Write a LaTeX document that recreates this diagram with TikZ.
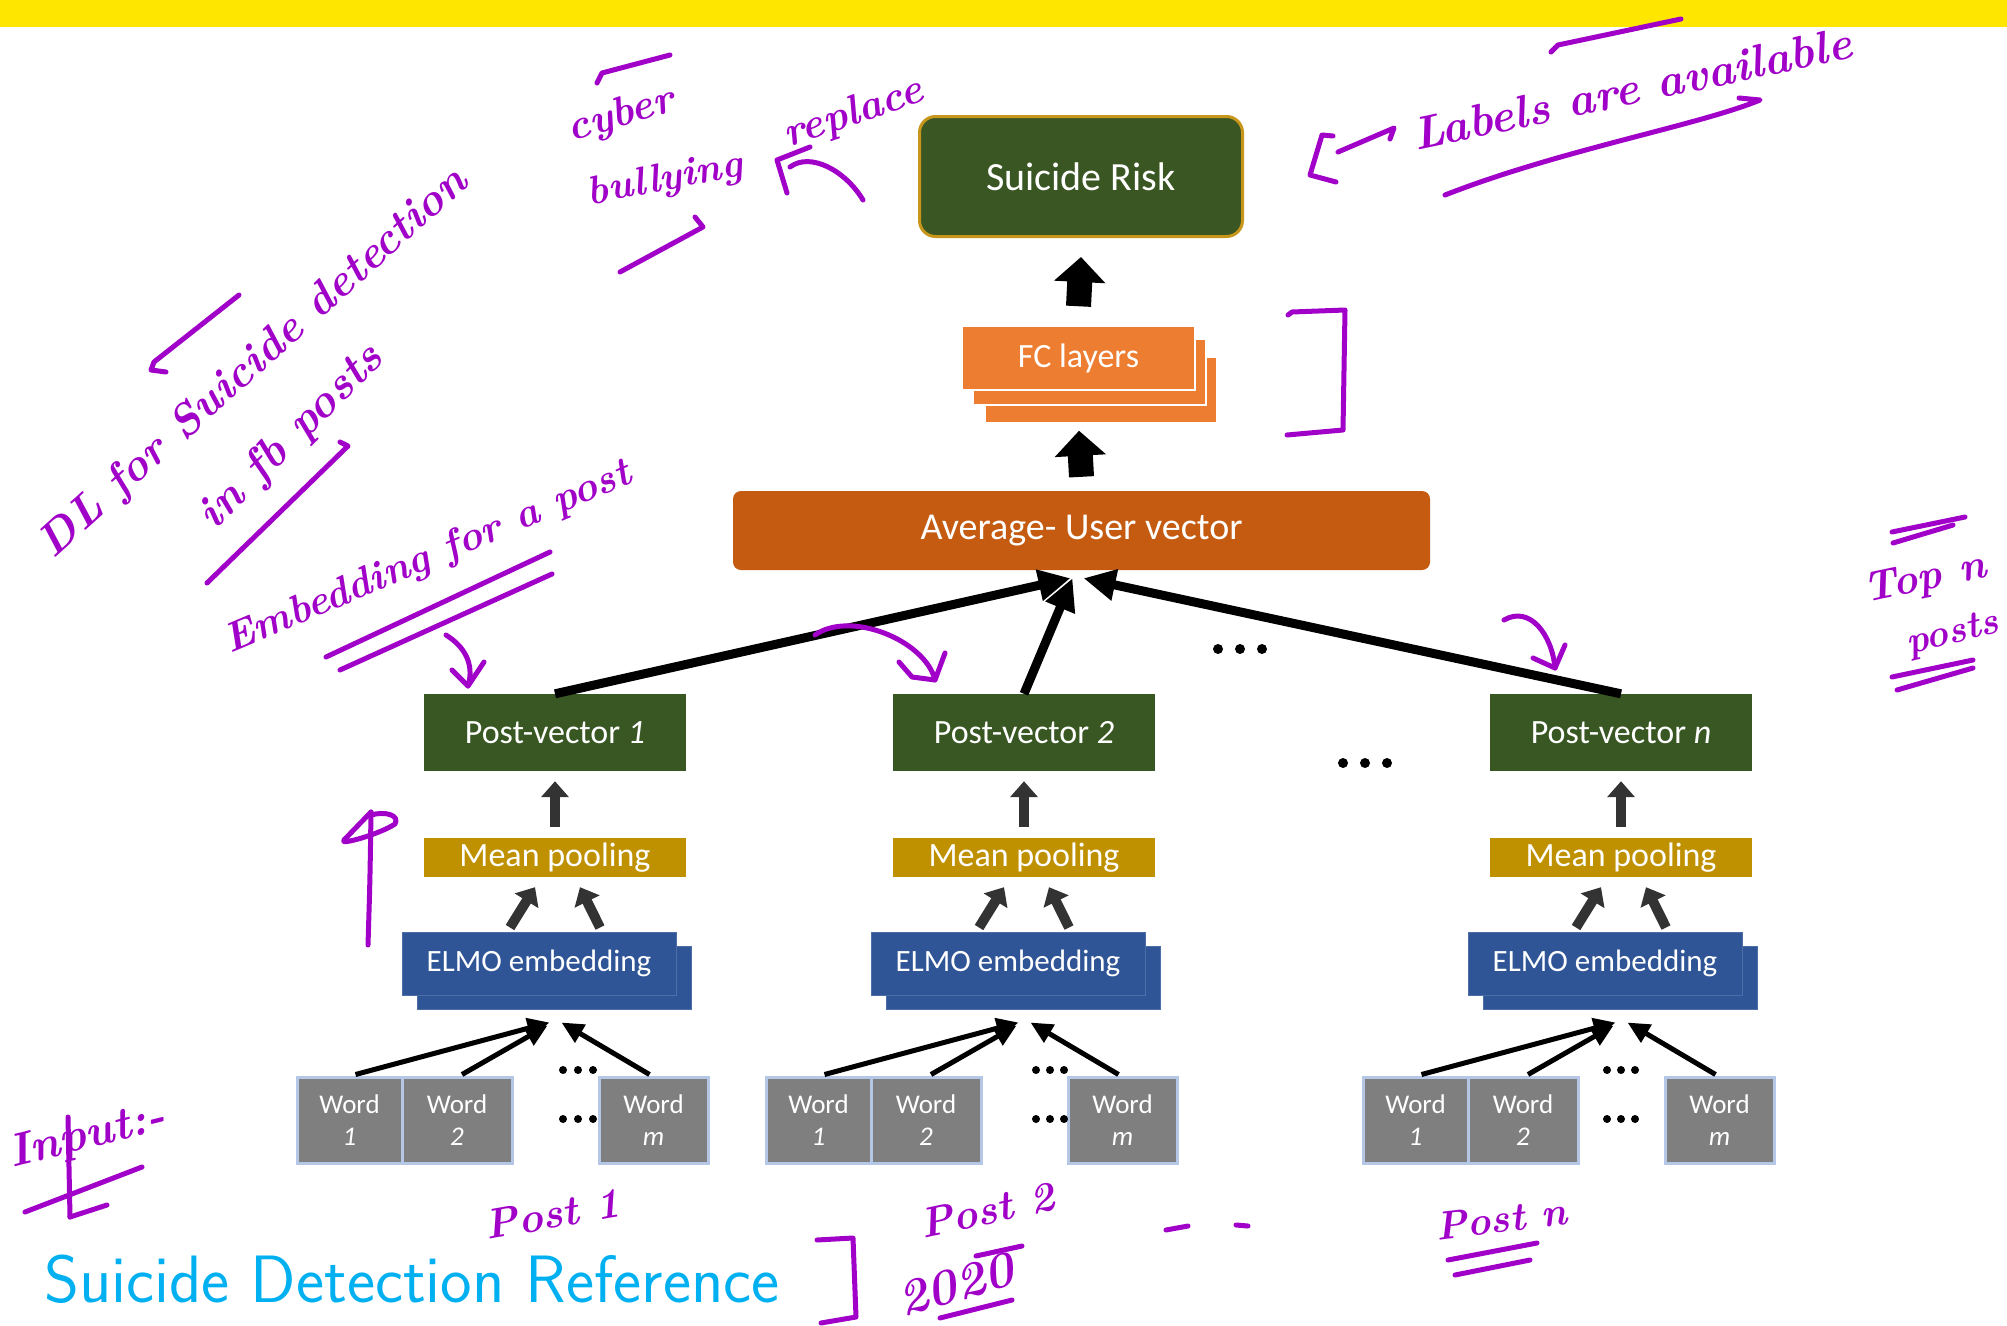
\documentclass[tikz,border=0pt]{standalone}
\usepackage{fontspec}
\newfontfamily\diagfont{Carlito}
\usetikzlibrary{arrows.meta,calc}

\definecolor{barYellow}{HTML}{FFE600}
\definecolor{riskGreen}{HTML}{3A5623}
\definecolor{riskGold}{HTML}{C8961A}
\definecolor{fcOrange}{HTML}{ED7D31}
\definecolor{avgOrange}{HTML}{C55A11}
\definecolor{pvGreen}{HTML}{385723}
\definecolor{poolGold}{HTML}{BF9000}
\definecolor{elmoBlue}{HTML}{2F5597}
\definecolor{wordGray}{HTML}{7F7F7F}
\definecolor{wordEdge}{HTML}{B4C7E7}
\definecolor{titleCyan}{HTML}{00B0F0}
\definecolor{ink}{HTML}{A000C8}

\begin{document}
\begin{tikzpicture}[x=1pt,y=-1pt,
  fs/.style={font=\diagfont\fontsize{#1}{#1}\selectfont},
  box/.style={inner sep=0pt, text=white},
  riskbox/.style={box, fill=riskGreen, draw=riskGold, line width=3pt,
    rounded corners=16pt, minimum width=323pt, minimum height=120pt, fs=40},
  fcbox/.style={box, fill=fcOrange, draw=white, line width=1.5pt,
    minimum width=233pt, minimum height=64pt, fs=34},
  avgbox/.style={box, fill=avgOrange, rounded corners=8pt,
    minimum width=697pt, minimum height=79pt, fs=38},
  pvbox/.style={box, fill=pvGreen, minimum width=262pt, minimum height=77pt, fs=34},
  poolbox/.style={box, fill=poolGold, minimum width=262pt, minimum height=39pt, fs=34},
  elmobox/.style={box, fill=elmoBlue, draw=elmoBlue!85!white, line width=1pt,
    minimum width=274pt, minimum height=63pt, fs=31},
  wordbox/.style={box, fill=wordGray, draw=wordEdge, line width=3pt,
    minimum height=86pt, align=center, fs=27},
  blockarrow/.style={line width=25pt, -{Triangle[width=50pt,length=25pt]}},
  smallarrow/.style={draw=black!80, line width=10pt, -{Triangle[width=27pt,length=16pt]}},
  bigarrow/.style={line width=9pt, -{Triangle[width=30pt,length=32pt]}},
  wordarrow/.style={line width=5pt, -{Triangle[width=20pt,length=22pt]}},
  dot/.style={fill=black, circle, inner sep=0pt, minimum size=#1},
  hw/.style={text=ink, inner sep=0pt, anchor=base,
    font=\bfseries\itshape\fontsize{#1}{#1}\selectfont},
  inkline/.style={draw=ink, line width=5pt, line cap=round, line join=round}
]
\useasboundingbox (0,0) rectangle (2007,1325);
\fill[white] (0,0) rectangle (2007,1325);
\fill[barYellow] (0,0) rectangle (2007,27);

% ---------- upper part of the network ----------
\node[riskbox] (risk) at (1081,176.5) {Suicide Risk};

\node[fcbox, minimum width=232pt, minimum height=66pt] (fcc) at (1101,390) {};
\node[fcbox, minimum width=233pt, minimum height=66pt] (fcb) at (1089.5,372) {};
\node[fcbox] (fc) at (1078.5,358) {FC layers};

\node[avgbox] (avg) at (1081.5,530.5) {Average- User vector};

\draw[blockarrow] ($(fc.north)+(0,-19)$) -- ($(risk.south)+(0,19)$);
\draw[blockarrow] ($(avg.north)+(0,-14)$) -- ($(fcc.south)+(-22,7)$);

% ---------- one column per post ----------
\foreach \i/\dx/\lab in {1/0/1, 2/469/2, 3/1066/n}{
  \node[pvbox]   (pv\i) at (555+\dx,732.5) {Post-vector \textit{\lab}};
  \node[poolbox] (mp\i) at (555+\dx,857.5) {Mean pooling};
  \node[elmobox] (elmob\i) at (554.5+\dx,977.5) {};
  \node[elmobox] (elmo\i)  at (539+\dx,963.5) {ELMO embedding};
  \node[wordbox, minimum width=105pt] (wa\i) at (349.5+\dx,1120) {Word\\[5pt]\textit{1}};
  \node[wordbox, minimum width=110pt] (wb\i) at (457+\dx,1120) {Word\\[5pt]\textit{2}};
  \node[wordbox, minimum width=109pt] (wm\i) at (653.5+\dx,1120) {Word\\[5pt]\textit{m}};

  \draw[smallarrow] ($(mp\i.north)+(0,-11)$) -- ($(pv\i.south)+(0,10)$);
  \draw[smallarrow] ($(elmo\i.north)+(-29,-4)$) -- ($(mp\i.south)+(-20,10)$);
  \draw[smallarrow] ($(elmo\i.north)+(61,-4)$) -- ($(mp\i.south)+(25,10)$);

  \draw[wordarrow] ($(wa\i.north)+(6,-1)$) -- ($(elmob\i.south)+(-5,13)$);
  \draw[wordarrow] ($(wb\i.north)+(5,-1)$) -- ($(elmob\i.south)+(-7,16)$);
  \draw[wordarrow] ($(wm\i.north)+(-4,-1)$) -- ($(elmob\i.south)+(7,13)$);
}

\draw[bigarrow] (pv1.north) -- ($(avg.south)+(-11,8)$);
\draw[bigarrow] (pv2.north) -- ($(avg.south)+(-9,8)$);
\draw[bigarrow] (pv3.north) -- ($(avg.south)+(2,8)$);

% ellipses between the columns and between the words
\foreach \x in {1218,1240,1262} \node[dot=10pt] (dta\x) at (\x,649) {};
\foreach \x in {1343,1365,1387} \node[dot=10pt] (dtb\x) at (\x,763) {};
\foreach \x in {563,578,593,1036,1050,1064,1607,1621,1635}{
  \node[dot=8pt] (dwu\x) at (\x,1070) {};
  \node[dot=8pt] (dwl\x) at (\x,1119) {};
}

% ---------- title ----------
\node[anchor=base west, inner sep=0pt, text=titleCyan,
  font=\sffamily\fontsize{67}{67}\selectfont] (title) at (44,1302) {Suicide Detection Reference};

% ---------- pen notes ----------
\node[hw=45, rotate=42] (nDL) at (262,372) {DL for Suicide detection};
\node[hw=46, rotate=45] (nFB) at (300,446) {in fb posts};
\draw[inkline] (239,295) -- (154,362) -- (151,370) -- (166,372);
\draw[inkline] (340,442) -- (348,446) -- (207,583);

\node[hw=41, rotate=23] (nEmb) at (432,568) {Embedding for a post};
\draw[inkline] (326,657) -- (550,552);
\draw[inkline] (340,670) -- (552,574);

\node[hw=42, rotate=17] (nCy) at (624,126) {cyber};
\node[hw=40, rotate=11] (nBu) at (667,190) {bullying};
\draw[inkline] (597,83) -- (602,73) -- (670,55);
\draw[inkline] (620,272) -- (703,227) -- (695,217);

\node[hw=42, rotate=19] (nRe) at (857,124) {replace};
\draw[inkline] (787,193) -- (777,160) -- (810,147);
\draw[inkline] (790,167) .. controls (810,152) and (845,170) .. (863,200);

\node[hw=46, rotate=12] (nLab) at (1635,104) {Labels are available};
\draw[inkline] (1333,136) -- (1322,135) -- (1310,175) -- (1336,182);
\draw[inkline] (1338,152) -- (1394,128) -- (1390,139);
\draw[inkline] (1551,52) -- (1558,45) -- (1681,19);
\draw[inkline] (1445,195) .. controls (1560,150) and (1700,125) .. (1760,100) -- (1739,98);

\draw[inkline] (1288,315) -- (1292,312) -- (1345,310) -- (1343,430) -- (1287,435);

\node[hw=42, rotate=12] (nTop) at (1927,590) {Top n};
\node[hw=38, rotate=14] (nPo) at (1955,643) {posts};
\draw[inkline] (1892,532) -- (1965,517);
\draw[inkline] (1893,543) -- (1953,525);
\draw[inkline] (1892,677) -- (1973,660);
\draw[inkline] (1897,690) -- (1973,668);

\draw[inkline] (446,635) .. controls (470,650) and (473,670) .. (468,686);
\draw[inkline] (452,670) -- (468,686) -- (484,662);
\draw[inkline] (815,635) .. controls (850,610) and (925,640) .. (935,680);
\draw[inkline] (899,662) -- (912,677) -- (935,680) -- (945,653);
\draw[inkline] (1504,620) .. controls (1530,605) and (1552,635) .. (1555,668);
\draw[inkline] (1533,658) -- (1555,668) -- (1565,645);

\draw[inkline] (368,945) .. controls (370,880) .. (371,812);
\draw[inkline] (371,812) -- (344,840) .. controls (338,846) and (380,834) .. (395,824)
  .. controls (400,815) and (385,811) .. (371,815);

\node[hw=46, rotate=14] (nIn) at (90,1148) {Input:-};
\draw[inkline] (25,1212) -- (142,1167);
\draw[inkline] (70,1217) -- (107,1205);
\draw[inkline] (68,1117) -- (70,1217);

\node[hw=42, rotate=10] (nP1) at (555,1228) {Post 1};
\node[hw=42, rotate=12] (nP2) at (990,1224) {Post 2};
\node[hw=50, rotate=16] (nYr) at (960,1300) {2020};
\draw[inkline] (976,1256) -- (1022,1246);
\draw[inkline] (940,1318) -- (1012,1300);
\draw[inkline] (817,1240) -- (853,1238) -- (856,1317) -- (821,1323);

\draw[inkline] (1166,1230) -- (1188,1226);
\draw[inkline] (1236,1225) -- (1248,1226);

\node[hw=40, rotate=7] (nPn) at (1503,1232) {Post n};
\draw[inkline] (1448,1260) -- (1537,1243);
\draw[inkline] (1455,1275) -- (1530,1260);
\end{tikzpicture}
\end{document}
